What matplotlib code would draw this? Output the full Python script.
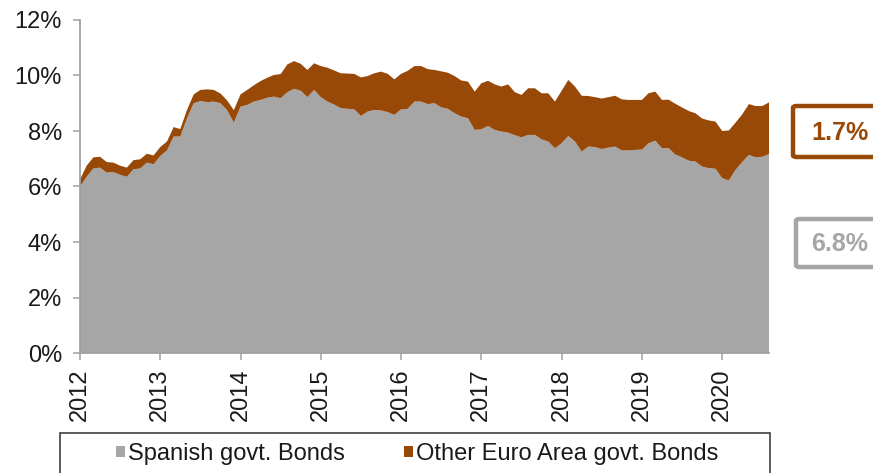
import matplotlib
matplotlib.use("Agg")
import matplotlib.pyplot as plt
import numpy as np
from matplotlib.patches import Rectangle, FancyBboxPatch

plt.rcParams['font.family'] = ['Liberation Sans', 'DejaVu Sans']

# Monthly data Jan 2012 .. Aug 2020 (% of total assets)
spanish = [
    6.00, 6.35, 6.65, 6.68, 6.50, 6.52, 6.42, 6.35, 6.62, 6.65, 6.86, 6.80,
    7.10, 7.30, 7.80, 7.80, 8.46, 9.00, 9.08, 9.04, 9.06, 9.00, 8.75, 8.30,
    8.88, 8.94, 9.06, 9.12, 9.20, 9.24, 9.18, 9.40, 9.52, 9.45, 9.22, 9.48,
    9.22, 9.06, 8.95, 8.82, 8.80, 8.78, 8.54, 8.70, 8.76, 8.74, 8.68, 8.58,
    8.78, 8.80, 9.06, 9.06, 8.97, 9.00, 8.85, 8.80, 8.64, 8.52, 8.46, 8.04,
    8.06, 8.18, 8.04, 7.98, 7.94, 7.85, 7.77, 7.86, 7.86, 7.70, 7.62, 7.38,
    7.56, 7.82, 7.62, 7.26, 7.44, 7.42, 7.35, 7.40, 7.44, 7.30, 7.30, 7.32,
    7.33, 7.56, 7.65, 7.38, 7.38, 7.15, 7.05, 6.93, 6.90, 6.72, 6.66, 6.64,
    6.30, 6.22, 6.60, 6.88, 7.14, 7.05, 7.07, 7.17,
]
total = [
    6.25, 6.75, 7.05, 7.07, 6.88, 6.86, 6.75, 6.68, 6.95, 6.98, 7.18, 7.12,
    7.42, 7.62, 8.14, 8.07, 8.76, 9.32, 9.48, 9.50, 9.48, 9.35, 9.10, 8.75,
    9.32, 9.48, 9.65, 9.80, 9.92, 10.02, 10.05, 10.40, 10.52, 10.42, 10.20, 10.44,
    10.34, 10.28, 10.18, 10.08, 10.07, 10.06, 9.93, 9.98, 10.08, 10.14, 10.06, 9.86,
    10.06, 10.17, 10.34, 10.34, 10.23, 10.20, 10.15, 10.10, 9.98, 9.82, 9.78, 9.42,
    9.72, 9.81, 9.68, 9.60, 9.68, 9.40, 9.30, 9.54, 9.54, 9.36, 9.36, 9.06,
    9.45, 9.84, 9.60, 9.27, 9.26, 9.22, 9.17, 9.22, 9.27, 9.14, 9.12, 9.12,
    9.12, 9.36, 9.42, 9.12, 9.13, 8.98, 8.85, 8.72, 8.64, 8.45, 8.38, 8.34,
    8.00, 8.02, 8.30, 8.60, 8.97, 8.90, 8.90, 9.03,
]
other_ea = [t - s for t, s in zip(total, spanish)]

series_labels = ["Spanish govt. Bonds", "Other Euro Area govt. Bonds"]
year_ticks = list(range(2012, 2021))
y_ticks = [0, 2, 4, 6, 8, 10, 12]
side_labels = ["1.7%", "6.8%"]

grey = '#a6a6a6'
brown = '#984807'
axis_grey = '#a0a0a0'
txt = '#1a1a1a'

x = 2012 + np.arange(len(spanish)) / 12.0

W, H = 873, 473
fig = plt.figure(figsize=(W / 100, H / 100), dpi=100)
ax = fig.add_axes([80 / W, (H - 353) / H, 689 / W, 333 / H])

polys = ax.stackplot(x, spanish, other_ea, colors=[grey, brown],
                     labels=series_labels, linewidth=0)

ax.set_xlim(x[0], x[-1])
ax.set_ylim(0, 12)
ax.set_yticks(y_ticks)
ax.set_yticklabels([f"{v}%" for v in y_ticks])
ax.set_xticks(year_ticks)
ax.set_xticklabels([str(y) for y in year_ticks], rotation=90)

for s in ['top', 'right']:
    ax.spines[s].set_visible(False)
for s in ['left', 'bottom']:
    ax.spines[s].set_color(axis_grey)
    ax.spines[s].set_linewidth(1.3)
ax.tick_params(axis='both', direction='out', length=5, width=1.1,
               color=axis_grey, labelcolor=txt, labelsize=17)
ax.tick_params(axis='y', pad=8)
ax.tick_params(axis='x', pad=6)

# Legend frame (extends past bottom edge)
fig.patches.append(Rectangle((60 / W, -0.05), 710 / W, (H - 433) / H + 0.05,
                             transform=fig.transFigure, fill=False,
                             edgecolor='#404040', linewidth=1.2, clip_on=False))
leg = fig.legend(handles=polys, labels=series_labels, loc='center',
                 bbox_to_anchor=(417 / W, (H - 454) / H), ncol=2,
                 frameon=False, fontsize=17, handlelength=0.38,
                 handleheight=0.38, handletextpad=0.12, columnspacing=2.5)
for t in leg.get_texts():
    t.set_color(txt)

# Side value boxes
box_specs = [
    (side_labels[0], brown, 793, 106, 157, 133),
    (side_labels[1], grey, 796, 219, 267, 244),
]
for label, col, x0, ytop, ybot, yc in box_specs:
    fig.patches.append(FancyBboxPatch((x0 / W, (H - ybot) / H), (W + 20 - x0) / W,
                                      (ybot - ytop) / H,
                                      boxstyle="round,pad=0,rounding_size=0.004",
                                      transform=fig.transFigure, fill=True,
                                      facecolor='white', edgecolor=col,
                                      linewidth=3.2, clip_on=False))
    fig.text(840 / W, (H - yc) / H, label, color=col, fontsize=18,
             fontweight='bold', ha='center', va='center')

fig.savefig('out.png', dpi=100)
